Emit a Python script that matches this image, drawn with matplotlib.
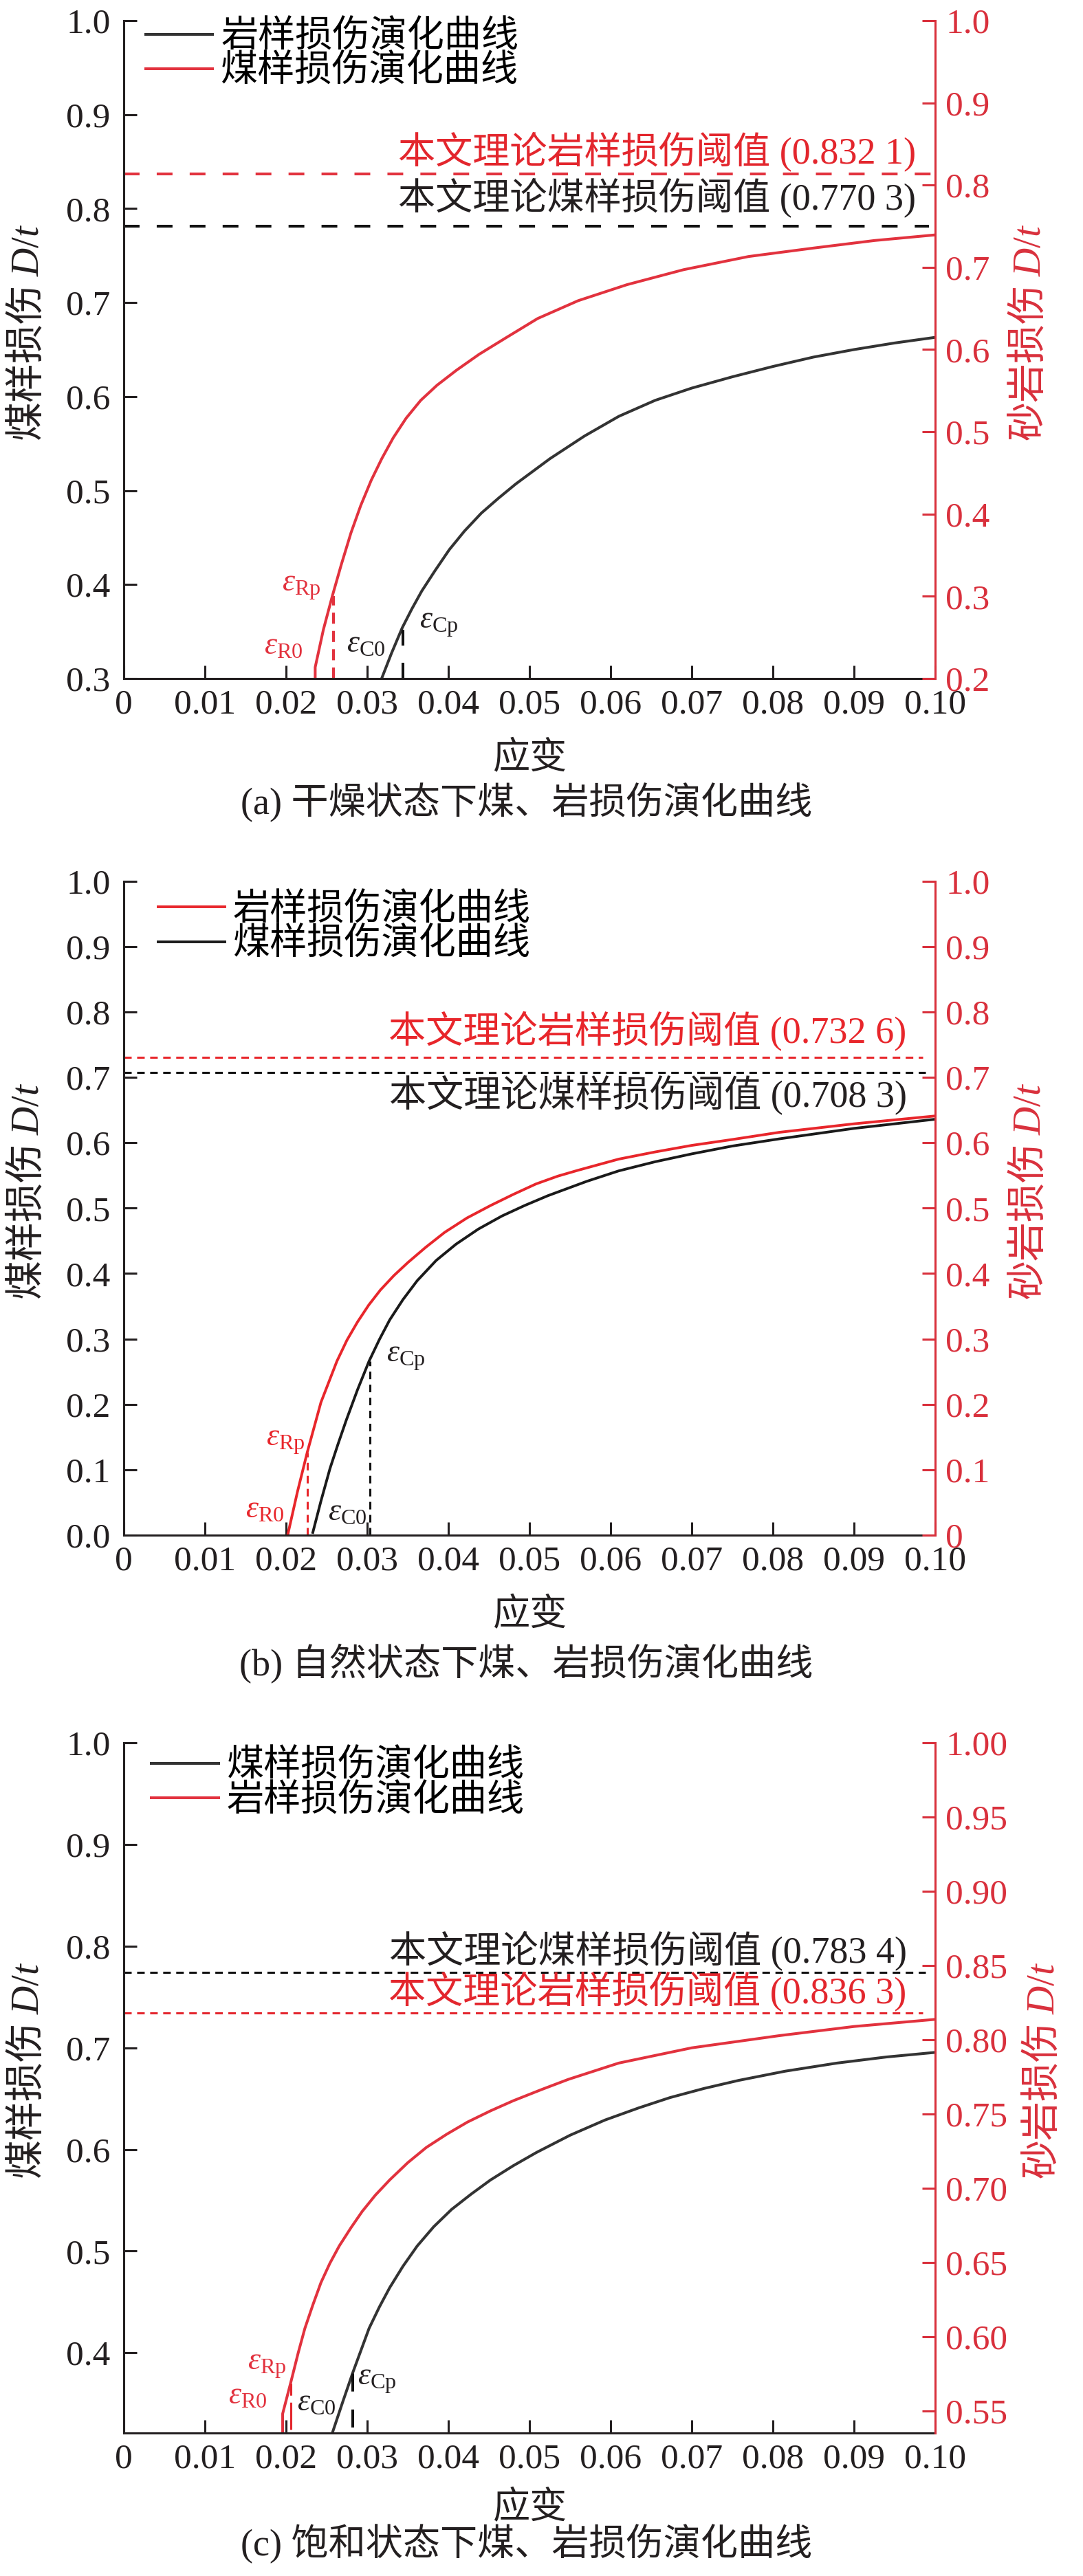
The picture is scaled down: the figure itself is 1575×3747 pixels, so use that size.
import matplotlib.pyplot as plt

plt.rcParams['font.family'] = ['Liberation Serif', 'Noto Sans CJK SC']
plt.rcParams['mathtext.fontset'] = 'custom'
plt.rcParams['mathtext.rm'] = 'Liberation Serif'
plt.rcParams['mathtext.it'] = 'Liberation Serif:italic'

DARK = '#231f20'
RED_AXIS = '#d9303c'
FIG_H = 3747

strain_ticks = [0, 0.01, 0.02, 0.03, 0.04, 0.05, 0.06, 0.07, 0.08, 0.09, 0.10]
strain_tick_labels = ['0', '0.01', '0.02', '0.03', '0.04', '0.05', '0.06', '0.07', '0.08', '0.09', '0.10']

# (a) dry state
dry_red_strain = [0.02359, 0.02359, 0.0246, 0.02571, 0.0268, 0.0280, 0.0292, 0.0305, 0.0318, 0.0332,
                  0.0348, 0.0366, 0.0386, 0.0410, 0.0438, 0.0470, 0.0510, 0.0560, 0.0620, 0.0690,
                  0.0770, 0.0850, 0.0925, 0.1000]
dry_red_damage = [0.300, 0.312, 0.352, 0.388, 0.421, 0.455, 0.484, 0.511, 0.534, 0.556,
                  0.577, 0.596, 0.612, 0.628, 0.645, 0.662, 0.683, 0.702, 0.719, 0.735,
                  0.749, 0.758, 0.766, 0.772]
dry_black_strain = [0.03178, 0.0330, 0.03432, 0.0355, 0.03672, 0.0383, 0.04011, 0.0420, 0.04407,
                    0.0462, 0.04831, 0.05254, 0.05678, 0.06102, 0.0655, 0.0700, 0.0750, 0.0800,
                    0.0850, 0.0900, 0.0950, 0.1000]
dry_black_damage = [0.300, 0.327, 0.354, 0.374, 0.393, 0.414, 0.437, 0.457, 0.476,
                    0.492, 0.507, 0.534, 0.558, 0.579, 0.596, 0.609, 0.621, 0.632,
                    0.642, 0.650, 0.657, 0.663]
dry_legend = ['岩样损伤演化曲线', '煤样损伤演化曲线']
dry_thresholds = [0.837, 0.781]
dry_threshold_labels = ['本文理论岩样损伤阈值 (0.832 1)', '本文理论煤样损伤阈值 (0.770 3)']
dry_marks_x = [0.02585, 0.03438]
dry_marks_top = [0.388, 0.354]

# (b) natural state
nat_red_strain = [0.0202, 0.0214, 0.0226, 0.0243, 0.02627, 0.0275, 0.02881, 0.0302, 0.03164, 0.0333,
                  0.03503, 0.0372, 0.03955, 0.0423, 0.0452, 0.0480, 0.0508, 0.0535, 0.0560, 0.0610,
                  0.0655, 0.0700, 0.0750, 0.0808, 0.0900, 0.1000]
nat_red_damage = [0.000, 0.066, 0.126, 0.203, 0.266, 0.298, 0.326, 0.352, 0.375, 0.397,
                  0.417, 0.440, 0.463, 0.485, 0.504, 0.521, 0.537, 0.549, 0.558, 0.575,
                  0.586, 0.596, 0.605, 0.616, 0.629, 0.641]
nat_black_strain = [0.0233, 0.0243, 0.02542, 0.0264, 0.0274, 0.0288, 0.03023, 0.0315, 0.03277,
                    0.0344, 0.03616, 0.0385, 0.04096, 0.0437, 0.04661, 0.0494, 0.05226, 0.05706,
                    0.0610, 0.0655, 0.0700, 0.0750, 0.0808, 0.0900, 0.1000]
nat_black_damage = [0.004, 0.052, 0.102, 0.139, 0.175, 0.222, 0.266, 0.299, 0.329,
                    0.360, 0.389, 0.420, 0.445, 0.468, 0.488, 0.504, 0.519, 0.541,
                    0.557, 0.571, 0.583, 0.595, 0.606, 0.622, 0.636]
nat_legend = ['岩样损伤演化曲线', '煤样损伤演化曲线']
nat_thresholds = [0.731, 0.708]
nat_threshold_labels = ['本文理论岩样损伤阈值 (0.732 6)', '本文理论煤样损伤阈值 (0.708 3)']
nat_marks_x = [0.0226, 0.03037]
nat_marks_top = [0.126, 0.266]

# (c) saturated state
sat_red_strain = [0.01958, 0.01958, 0.02062, 0.0215, 0.02232, 0.0233, 0.0243, 0.0254, 0.02655, 0.0280,
                  0.02938, 0.0310, 0.03277, 0.0350, 0.03729, 0.0398, 0.04237, 0.0452, 0.04802, 0.0515,
                  0.0548, 0.0610, 0.0700, 0.0808, 0.0900, 0.1000]
sat_red_damage = [0.321, 0.340, 0.372, 0.400, 0.424, 0.447, 0.469, 0.488, 0.505, 0.523,
                  0.539, 0.555, 0.570, 0.587, 0.602, 0.615, 0.627, 0.638, 0.648, 0.659,
                  0.669, 0.685, 0.700, 0.712, 0.721, 0.728]
sat_black_strain = [0.0257, 0.0270, 0.02825, 0.03023, 0.0315, 0.03277, 0.0344, 0.03616, 0.0382, 0.0404,
                    0.0428, 0.0452, 0.0480, 0.05085, 0.0550, 0.05932, 0.0635, 0.0673, 0.0715, 0.0758,
                    0.0815, 0.0879, 0.0940, 0.1000]
sat_black_damage = [0.321, 0.352, 0.381, 0.424, 0.445, 0.464, 0.485, 0.505, 0.524, 0.541,
                    0.556, 0.570, 0.584, 0.597, 0.614, 0.629, 0.641, 0.651, 0.660, 0.668,
                    0.677, 0.685, 0.691, 0.6955]
sat_legend = ['煤样损伤演化曲线', '岩样损伤演化曲线']
sat_thresholds = [0.7745, 0.7345]
sat_threshold_labels = ['本文理论煤样损伤阈值 (0.783 4)', '本文理论岩样损伤阈值 (0.836 3)']
sat_marks_x = [0.02062, 0.02825]
sat_marks_bottom = [0.3244, 0.3266]
sat_marks_top = [0.3696, 0.3808]

captions = ['(a) 干燥状态下煤、岩损伤演化曲线', '(b) 自然状态下煤、岩损伤演化曲线', '(c) 饱和状态下煤、岩损伤演化曲线']


def setup_axes(ax, ylim, yticks, ylabels, right_lim, right_ticks, right_labels, right_label_x, height,
               xlabel_gap=92):
    '''
    Formats the left (coal) axis and builds the red right (rock) axis.
    :param height: axes height as a fraction of the figure, used to keep label offsets in pixels.
    :param xlabel_gap: distance in pixels from the bottom spine to the top of the x label.
    '''
    ax.set_xlim(0, 0.1)
    ax.set_ylim(*ylim)
    ax.set_xticks(strain_ticks, strain_tick_labels)
    ax.set_yticks(yticks, ylabels)
    ax.spines['top'].set_visible(False)
    ax.spines['right'].set_visible(False)
    for side in ('left', 'bottom'):
        ax.spines[side].set_linewidth(2.2)
        ax.spines[side].set_color(DARK)
    ax.tick_params(direction='in', length=14, width=2.2, labelsize=37, color=DARK, labelcolor=DARK)
    ax.tick_params(axis='x', pad=11)
    ax.tick_params(axis='y', pad=14)
    ax.set_xlabel('应变', fontsize=39, color=DARK)
    ax.xaxis.set_label_coords(0.5, -xlabel_gap / (height * FIG_H))
    label_y = 0.5 + 25 / (height * FIG_H)
    ax.set_ylabel('煤样损伤 $D/t$', fontsize=41, color=DARK, fontfamily='Noto Sans CJK SC')
    ax.yaxis.set_label_coords(-0.094, label_y)

    rax = ax.twinx()
    rax.set_ylim(*right_lim)
    rax.set_yticks(right_ticks, right_labels)
    for side in ('left', 'top', 'bottom'):
        rax.spines[side].set_visible(False)
    rax.spines['right'].set_color(RED_AXIS)
    rax.spines['right'].set_linewidth(2.2)
    rax.tick_params(direction='in', length=14, width=2.2, labelsize=37, colors=RED_AXIS, pad=11)
    rax.set_ylabel('砂岩损伤 $D/t$', fontsize=41, color=RED_AXIS, fontfamily='Noto Sans CJK SC')
    rax.yaxis.set_label_coords(right_label_x, label_y)
    return rax


def eps_label(ax, x, y, sub, color):
    ax.text(x, y, r'$\varepsilon_{\mathrm{%s}}$' % sub, fontsize=33, color=color, ha='center', va='center')


fig = plt.figure(figsize=(15.75, 37.47), dpi=100)
left, width = 0.1143, 0.7492
long_dash = (0, (5.7, 6.2))
short_dash = (0, (3.6, 2.6))
legend_kw = dict(loc='upper left', frameon=False, fontsize=39, handlelength=1.8, handletextpad=0.22,
                 labelspacing=0.0, borderaxespad=0, borderpad=0)

# ---------- (a) ----------
red_a = '#e2323e'
black_a = '#333333'
h = 0.2554
ax = fig.add_axes([left, 0.7366, width, h])
setup_axes(ax, (0.3, 1.0), [0.3, 0.4, 0.5, 0.6, 0.7, 0.8, 0.9, 1.0],
           ['0.3', '0.4', '0.5', '0.6', '0.7', '0.8', '0.9', '1.0'],
           (0.2, 1.0), [0.2, 0.3, 0.4, 0.5, 0.6, 0.7, 0.8, 0.9, 1.0],
           ['0.2', '0.3', '0.4', '0.5', '0.6', '0.7', '0.8', '0.9', '1.0'], 1.091, h)
hb, = ax.plot(dry_black_strain, dry_black_damage, color=black_a, lw=2.9, label=dry_legend[0])
hr, = ax.plot(dry_red_strain, dry_red_damage, color=red_a, lw=2.9, label=dry_legend[1])
ax.plot([0, 0.1], [dry_thresholds[0]] * 2, color=red_a, lw=2.9, ls=long_dash)
ax.plot([0, 0.0992], [dry_thresholds[1]] * 2, color='#111111', lw=2.9, ls=long_dash)
ax.text(0.0976, 0.861, dry_threshold_labels[0], fontsize=39, color='#e3262d', ha='right', va='center')
ax.text(0.0976, 0.812, dry_threshold_labels[1], fontsize=39, color=DARK, ha='right', va='center')
ax.plot([dry_marks_x[0]] * 2, [0.3, dry_marks_top[0]], color=red_a, lw=2.9, ls=(0, (4, 2.6)))
ax.plot([dry_marks_x[1]] * 2, [0.3, dry_marks_top[1]], color='#111111', lw=2.9, ls=long_dash)
eps_label(ax, 0.02186, 0.3978, 'Rp', red_a)
eps_label(ax, 0.01966, 0.3342, 'R0', red_a)
eps_label(ax, 0.02983, 0.3364, 'C0', DARK)
eps_label(ax, 0.0388, 0.3576, 'Cp', DARK)
ax.legend(handles=[hb, hr], bbox_to_anchor=(0.027, 1.0), **legend_kw)

# ---------- (b) ----------
red_b = '#e8262b'
black_b = '#1a1a1a'
h = 0.2538
ax = fig.add_axes([left, 0.4041, width, h])
setup_axes(ax, (0.0, 1.0), [i / 10 for i in range(11)],
           ['0.0', '0.1', '0.2', '0.3', '0.4', '0.5', '0.6', '0.7', '0.8', '0.9', '1.0'],
           (0.0, 1.0), [i / 10 for i in range(11)],
           ['0', '0.1', '0.2', '0.3', '0.4', '0.5', '0.6', '0.7', '0.8', '0.9', '1.0'], 1.091, h)
hr, = ax.plot(nat_red_strain, nat_red_damage, color=red_b, lw=2.8, label=nat_legend[0])
hb, = ax.plot(nat_black_strain, nat_black_damage, color=black_b, lw=2.8, label=nat_legend[1])
ax.plot([0, 0.0985], [nat_thresholds[0]] * 2, color=red_b, lw=2.2, ls=short_dash)
ax.plot([0, 0.0988], [nat_thresholds[1]] * 2, color='#111111', lw=2.2, ls=short_dash)
ax.text(0.0965, 0.771, nat_threshold_labels[0], fontsize=39, color=red_b, ha='right', va='center')
ax.text(0.0965, 0.674, nat_threshold_labels[1], fontsize=39, color=DARK, ha='right', va='center')
ax.plot([nat_marks_x[0]] * 2, [0, nat_marks_top[0]], color=red_b, lw=2.2, ls=short_dash)
ax.plot([nat_marks_x[1]] * 2, [0, nat_marks_top[1]], color='#111111', lw=2.2, ls=short_dash)
eps_label(ax, 0.01992, 0.1436, 'Rp', red_b)
eps_label(ax, 0.01737, 0.038, 'R0', red_b)
eps_label(ax, 0.02754, 0.034, 'C0', DARK)
eps_label(ax, 0.03475, 0.2715, 'Cp', DARK)
ax.legend(handles=[hr, hb], bbox_to_anchor=(0.042, 0.981), **legend_kw)

# ---------- (c) ----------
h = 0.2679
ax = fig.add_axes([left, 0.0555, width, h])
setup_axes(ax, (0.321, 1.0), [0.4, 0.5, 0.6, 0.7, 0.8, 0.9, 1.0],
           ['0.4', '0.5', '0.6', '0.7', '0.8', '0.9', '1.0'],
           (0.535, 1.0), [0.55, 0.60, 0.65, 0.70, 0.75, 0.80, 0.85, 0.90, 0.95, 1.00],
           ['0.55', '0.60', '0.65', '0.70', '0.75', '0.80', '0.85', '0.90', '0.95', '1.00'], 1.108, h,
           xlabel_gap=85)
hb, = ax.plot(sat_black_strain, sat_black_damage, color=black_a, lw=2.9, label=sat_legend[0])
hr, = ax.plot(sat_red_strain, sat_red_damage, color=red_a, lw=2.9, label=sat_legend[1])
ax.plot([0, 0.0988], [sat_thresholds[0]] * 2, color='#111111', lw=2.2, ls=short_dash)
ax.plot([0, 0.0985], [sat_thresholds[1]] * 2, color='#e3262d', lw=2.2, ls=short_dash)
ax.text(0.0965, 0.7955, sat_threshold_labels[0], fontsize=39, color=DARK, ha='right', va='center')
ax.text(0.0965, 0.756, sat_threshold_labels[1], fontsize=39, color='#e3262d', ha='right', va='center')
ax.plot([sat_marks_x[0]] * 2, [sat_marks_bottom[0], sat_marks_top[0]], color='#e3262d', lw=2.2,
        ls=(0, (13, 3.3)))
ax.plot([sat_marks_x[1]] * 2, [sat_marks_bottom[1], sat_marks_top[1]], color='#111111', lw=2.9,
        ls=(0, (6.5, 6.5)))
eps_label(ax, 0.01763, 0.3875, 'Rp', red_a)
eps_label(ax, 0.0153, 0.3571, 'R0', red_a)
eps_label(ax, 0.02373, 0.3503, 'C0', DARK)
eps_label(ax, 0.03119, 0.3728, 'Cp', DARK)
ax.legend(handles=[hb, hr], bbox_to_anchor=(0.034, 0.99), **legend_kw)

for cap, y in zip(captions, [0.6883, 0.3541, 0.0125]):
    fig.text(0.486, y, cap, fontsize=39, color=DARK, ha='center', va='center')

fig.savefig('out.png', dpi=100)
